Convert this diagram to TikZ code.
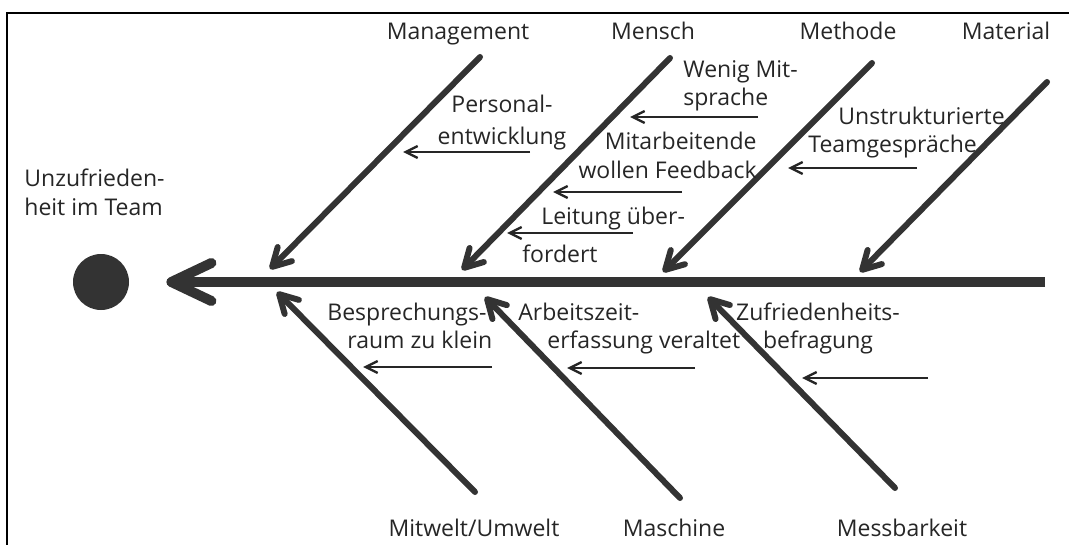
\documentclass[tikz,border=0pt]{standalone}
\usepackage{fontspec}
\setmainfont{Open Sans}
\usetikzlibrary{arrows.meta}

\begin{document}
\begin{tikzpicture}[x=0.5pt,y=-0.5pt,
	fishb/.style={
	  font=\fontsize{11.5pt}{14pt}\selectfont,
	  text=black!85,
	  inner sep=0pt
	},
	causeb/.style={
	  fishb,
	  align=left
	},
	spineb/.style={
	  draw=black!80,
	  line width=5pt,
	  -{Straight Barb[length=20pt,width=19pt,round]}
	},
	boneb/.style={
	  draw=black!80,
	  line width=3pt,
	  line cap=round,
	  -{Straight Barb[length=9pt,width=10pt,round]}
	},
	twigb/.style={
	  draw=black!85,
	  line width=1.2pt,
	  -{Straight Barb[length=6pt,width=6pt]}
	}]

	\useasboundingbox (0,0) rectangle (1069,545);
	\draw[line width=1pt] (7,545) -- (7,13) -- (1069,13);

	\node[circle,fill=black!80,minimum size=28pt,inner sep=0pt] (Effect) at (101,282) {};
	\node[causeb,anchor=base west] (Problem) at (24,215) {Unzufrieden-\\heit im Team};
	\coordinate (SpineEnd) at (1045,282);
	\draw[spineb,shorten >=18.5pt] (SpineEnd) -- (Effect);

	\node[fishb,anchor=base] (Management) at (458,40) {Management};
	\node[fishb,anchor=base] (Mensch) at (653,40) {Mensch};
	\node[fishb,anchor=base] (Methode) at (848,40) {Methode};
	\node[fishb,anchor=base] (Material) at (1006,40) {Material};

	\node[fishb,anchor=base] (Mitwelt) at (474,536) {Mitwelt/Umwelt};
	\node[fishb,anchor=base] (Maschine) at (674,536) {Maschine};
	\node[fishb,anchor=base] (Messbarkeit) at (902,536) {Messbarkeit};

	\coordinate (ManagementRoot) at (480,57);
	\coordinate (ManagementTip) at (270,269);
	\coordinate (MenschRoot) at (670,58);
	\coordinate (MenschTip) at (462,270);
	\coordinate (MethodeRoot) at (872,63);
	\coordinate (MethodeTip) at (663,272);
	\coordinate (MaterialRoot) at (1047,82);
	\coordinate (MaterialTip) at (860,272);
	\coordinate (MitweltRoot) at (475,492);
	\coordinate (MitweltTip) at (277,292);
	\coordinate (MaschineRoot) at (680,498);
	\coordinate (MaschineTip) at (485,297);
	\coordinate (MessbarkeitRoot) at (895,488);
	\coordinate (MessbarkeitTip) at (708,297);

	\draw[boneb] (ManagementRoot) -- (ManagementTip);
	\draw[boneb] (MenschRoot) -- (MenschTip);
	\draw[boneb] (MethodeRoot) -- (MethodeTip);
	\draw[boneb] (MaterialRoot) -- (MaterialTip);
	\draw[boneb] (MitweltRoot) -- (MitweltTip);
	\draw[boneb] (MaschineRoot) -- (MaschineTip);
	\draw[boneb] (MessbarkeitRoot) -- (MessbarkeitTip);

	\node[causeb,align=center,anchor=base] (Personal) at (502,145) {Personal-\\[2pt]entwicklung};
	\node[causeb,anchor=base west] (Mitsprache) at (683,106) {Wenig Mit-\\sprache};
	\node[causeb,align=right,anchor=base east] (Feedback) at (757,178) {Mitarbeitende\\wollen Feedback};
	\node[causeb,anchor=base west] (Leitung) at (541,225) {Leitung über-};
	\node[causeb,anchor=base west] (Ueberfordert) at (522,262) {fordert};
	\node[causeb,anchor=base west] (Teamgespraeche) at (808,153) {\hspace*{15pt}Unstrukturierte\\Teamgespräche};

	\node[causeb,anchor=base west] (Raum) at (327,348) {Besprechungs-\\\hspace*{10pt}raum zu klein};
	\node[causeb,anchor=base west] (Zeiterfassung) at (518,348) {Arbeitszeit-\\\hspace*{14.5pt}erfassung veraltet};
	\node[causeb,align=center,anchor=base] (Befragung) at (818,348) {Zufriedenheits-\\befragung};

	\coordinate (PersonalFrom) at (530,152);
	\coordinate (PersonalTo) at (403,152);
	\coordinate (MitspracheFrom) at (758,117);
	\coordinate (MitspracheTo) at (630,117);
	\coordinate (FeedbackFrom) at (682,192);
	\coordinate (FeedbackTo) at (553,192);
	\coordinate (LeitungFrom) at (633,233);
	\coordinate (LeitungTo) at (507,233);
	\coordinate (TeamFrom) at (917,168);
	\coordinate (TeamTo) at (788,168);
	\coordinate (RaumFrom) at (492,367);
	\coordinate (RaumTo) at (363,367);
	\coordinate (ZeitFrom) at (695,368);
	\coordinate (ZeitTo) at (567,368);
	\coordinate (BefragungFrom) at (928,378);
	\coordinate (BefragungTo) at (802,378);

	\draw[twigb] (PersonalFrom) -- (PersonalTo);
	\draw[twigb] (MitspracheFrom) -- (MitspracheTo);
	\draw[twigb] (FeedbackFrom) -- (FeedbackTo);
	\draw[twigb] (LeitungFrom) -- (LeitungTo);
	\draw[twigb] (TeamFrom) -- (TeamTo);
	\draw[twigb] (RaumFrom) -- (RaumTo);
	\draw[twigb] (ZeitFrom) -- (ZeitTo);
	\draw[twigb] (BefragungFrom) -- (BefragungTo);
\end{tikzpicture}
\end{document}
